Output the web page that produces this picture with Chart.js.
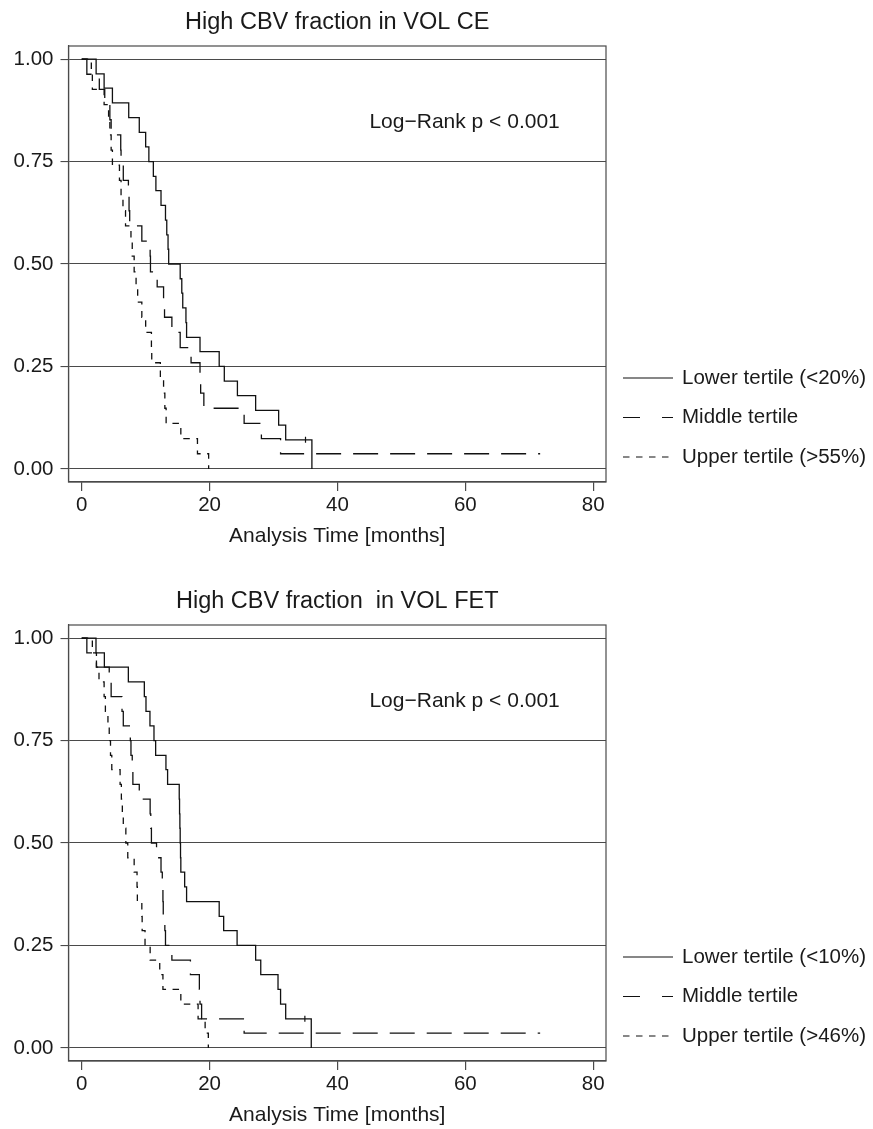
<!DOCTYPE html>
<html>
<head>
<meta charset="utf-8">
<title>High CBV fraction - survival by tertile</title>
<script src="https://cdn.jsdelivr.net/npm/chart.js@4.4.1/dist/chart.umd.min.js"></script>
<style>
html, body { margin: 0; padding: 0; background: #fff; }
#wrap { position: relative; width: 873px; height: 1129px; }
canvas { position: absolute; left: 0; display: block; }
#chartCE { top: 0; }
#chartFET { top: 579px; }
</style>
</head>
<body>
<div id="wrap">
  <canvas id="chartCE" width="873" height="579"></canvas>
  <canvas id="chartFET" width="873" height="550"></canvas>
</div>
<script>
// axis ticks
const xTicks = [0, 20, 40, 60, 80];
const yTicks = [0, 0.25, 0.5, 0.75, 1];

// Panel 1: VOL CE  (time in months, survival after each step)
const ceLowerTime = [0, 2.25, 3.5, 4.8, 7.35, 9.0, 10.0, 10.5, 11.2, 11.6, 12.4, 13.1, 13.3, 13.5, 13.6, 15.4, 15.65, 15.8, 16.3, 16.4, 18.5, 21.5, 22.3, 24.35, 27.2, 30.8, 31.9, 36.0];
const ceLowerSurv = [1, .964, .929, .893, .857, .821, .786, .75, .714, .679, .643, .607, .571, .536, .5, .464, .429, .393, .357, .321, .286, .25, .214, .179, .143, .107, .071, 0];
const ceMiddleTime = [0, 0.8, 2.75, 3.6, 4.4, 4.6, 6.1, 6.15, 6.5, 7.3, 7.4, 7.5, 9.4, 10.7, 10.75, 11.8, 12.8, 12.95, 14.1, 15.4, 17.1, 18.5, 18.6, 19.1, 25.4, 28.1, 31.1, 71.7];
const ceMiddleSurv = [1, .963, .926, .889, .852, .815, .778, .741, .704, .667, .630, .593, .556, .519, .481, .444, .407, .370, .333, .296, .259, .222, .185, .148, .111, .074, .037, .037];
const ceUpperTime = [0, 1.5, 1.66, 3.5, 4.2, 4.4, 4.6, 4.8, 5.9, 6.15, 6.45, 6.85, 7.7, 7.9, 8.2, 8.5, 8.75, 9.4, 10.0, 10.9, 10.95, 12.3, 12.8, 13.0, 13.2, 15.5, 18.1, 19.85];
const ceUpperSurv = [1, .963, .926, .889, .852, .815, .778, .741, .704, .667, .630, .593, .556, .519, .481, .444, .407, .370, .333, .296, .259, .222, .185, .148, .111, .074, .037, 0];
const ceCensorTime = [35.0];
const ceCensorSurv = [.071];

// Panel 2: VOL FET
const fetLowerTime = [0, 2.23, 3.54, 7.29, 9.79, 10.05, 10.67, 11.3, 11.56, 13.17, 13.43, 15.25, 15.3, 15.35, 15.4, 15.45, 15.5, 16.1, 16.4, 21.5, 22.2, 24.3, 27.2, 28.0, 30.7, 31.1, 31.9, 35.9];
const fetLowerSurv = [1, .964, .929, .893, .857, .821, .786, .75, .714, .679, .643, .607, .571, .536, .5, .464, .429, .393, .357, .321, .286, .25, .214, .179, .143, .107, .071, 0];
const fetMiddleTime = [0, 0.8, 2.3, 4.3, 4.6, 6.3, 6.5, 7.6, 7.7, 7.9, 8.0, 9.0, 10.7, 10.8, 10.9, 11.7, 12.4, 12.6, 12.7, 12.75, 13.0, 13.1, 14.1, 17.0, 18.4, 18.5, 18.75, 25.4, 71.7];
const fetMiddleSurv = [1, .964, .929, .893, .857, .821, .786, .75, .714, .679, .643, .607, .571, .536, .5, .464, .429, .393, .357, .321, .286, .25, .214, .179, .143, .107, .071, .036, .036];
const fetUpperTime = [0, 1.66, 2.3, 2.7, 3.5, 3.7, 4.1, 4.3, 4.5, 4.7, 6.0, 6.2, 6.35, 6.5, 6.9, 7.2, 8.2, 8.65, 8.7, 9.4, 9.45, 9.9, 10.7, 12.2, 12.7, 15.5, 18.2, 19.3, 19.8];
const fetUpperSurv = [1, .964, .929, .893, .857, .821, .786, .75, .714, .679, .643, .607, .571, .536, .5, .464, .429, .393, .357, .321, .286, .25, .214, .179, .143, .107, .071, .036, 0];
const fetCensorTime = [34.9];
const fetCensorSurv = [.071];

const FONT = "'Liberation Sans', Arial, Helvetica, sans-serif";
const INK = '#1a1a1a';
const LINE = '#111';
const GRID = '#4a4a4a';

const dashes = [[], [25, 12], [6.5, 6.5]];
const legendDashes = [[], [17, 22], [6.5, 6.5]];

function pts(times, surv) {
  return times.map((t, i) => ({ x: t, y: surv[i] }));
}

// frame, log-rank note and legend
const kmDecor = {
  id: 'kmDecor',
  afterDraw(chart, args, opts) {
    const { ctx, chartArea: a, scales } = chart;
    ctx.save();
    ctx.strokeStyle = GRID;
    ctx.lineWidth = 1.2;
    ctx.strokeRect(a.left, a.top, a.right - a.left, a.bottom - a.top);

    ctx.fillStyle = INK;
    ctx.textBaseline = 'middle';
    ctx.textAlign = 'left';
    ctx.font = '21px ' + FONT;
    ctx.fillText(opts.note, scales.x.getPixelForValue(45), scales.y.getPixelForValue(0.847));

    ctx.font = '20.5px ' + FONT;
    ctx.strokeStyle = LINE;
    ctx.lineWidth = 1.2;
    opts.labels.forEach((lab, i) => {
      const y = 378 + i * 39.5;
      ctx.setLineDash(legendDashes[i]);
      ctx.beginPath();
      ctx.moveTo(623, y);
      ctx.lineTo(673, y);
      ctx.stroke();
      ctx.setLineDash([]);
      ctx.fillText(lab, 682, y);
    });
    ctx.restore();
  }
};

function makeChart(id, title, series, censor, labels, padBottom) {
  const datasets = series.map((s, i) => ({
    label: labels[i],
    data: pts(s[0], s[1]),
    stepped: 'before',   // hold the level, then drop at the event time
    borderColor: LINE,
    borderWidth: 1.3,
    borderDash: dashes[i],
    pointRadius: 0,
    fill: false
  }));
  datasets.push({
    label: 'censored',
    data: pts(censor[0], censor[1]),
    showLine: false,
    pointStyle: 'line',
    rotation: 90,
    pointRadius: 3,
    pointBorderWidth: 1.2,
    pointBorderColor: LINE
  });

  return new Chart(document.getElementById(id), {
    type: 'line',
    data: { datasets },
    plugins: [kmDecor],
    options: {
      responsive: false,
      animation: false,
      devicePixelRatio: 1,
      layout: { padding: { left: 0, right: 267, top: 0, bottom: padBottom } },
      plugins: {
        legend: { display: false },
        tooltip: { enabled: false },
        title: {
          display: true,
          text: title,
          fullSize: false,
          color: INK,
          font: { family: FONT, size: 23.5, weight: 'normal' },
          padding: { top: 8.9, bottom: 8.9 }
        },
        kmDecor: { note: 'Log\u2212Rank p < 0.001', labels }
      },
      scales: {
        x: {
          type: 'linear',
          min: -2.07,
          max: 82,
          afterBuildTicks: sc => { sc.ticks = xTicks.map(v => ({ value: v })); },
          afterFit: sc => { sc.height = 67; },
          grid: { drawOnChartArea: false, tickLength: 9, color: GRID, lineWidth: 1.2 },
          border: { display: true, color: GRID, width: 1.2 },
          ticks: { color: INK, padding: 2, font: { family: FONT, size: 20.5 } },
          title: {
            display: true,
            text: 'Analysis Time [months]',
            color: INK,
            padding: 0,
            font: { family: FONT, size: 21 }
          }
        },
        y: {
          type: 'linear',
          min: -0.032,
          max: 1.032,
          afterBuildTicks: sc => { sc.ticks = yTicks.map(v => ({ value: v })); },
          afterFit: sc => { sc.width = 68.5; },
          grid: { tickLength: 8, color: GRID, lineWidth: 1.1 },
          border: { display: true, color: GRID, width: 1.2 },
          ticks: {
            color: INK,
            padding: 7,
            font: { family: FONT, size: 20.5 },
            callback: v => v.toFixed(2)
          }
        }
      }
    }
  });
}

makeChart('chartCE', 'High CBV fraction in VOL CE',
  [[ceLowerTime, ceLowerSurv], [ceMiddleTime, ceMiddleSurv], [ceUpperTime, ceUpperSurv]],
  [ceCensorTime, ceCensorSurv],
  ['Lower tertile (<20%)', 'Middle tertile', 'Upper tertile (>55%)'], 30);

makeChart('chartFET', 'High CBV fraction  in VOL FET',
  [[fetLowerTime, fetLowerSurv], [fetMiddleTime, fetMiddleSurv], [fetUpperTime, fetUpperSurv]],
  [fetCensorTime, fetCensorSurv],
  ['Lower tertile (<10%)', 'Middle tertile', 'Upper tertile (>46%)'], 1);
</script>
</body>
</html>
